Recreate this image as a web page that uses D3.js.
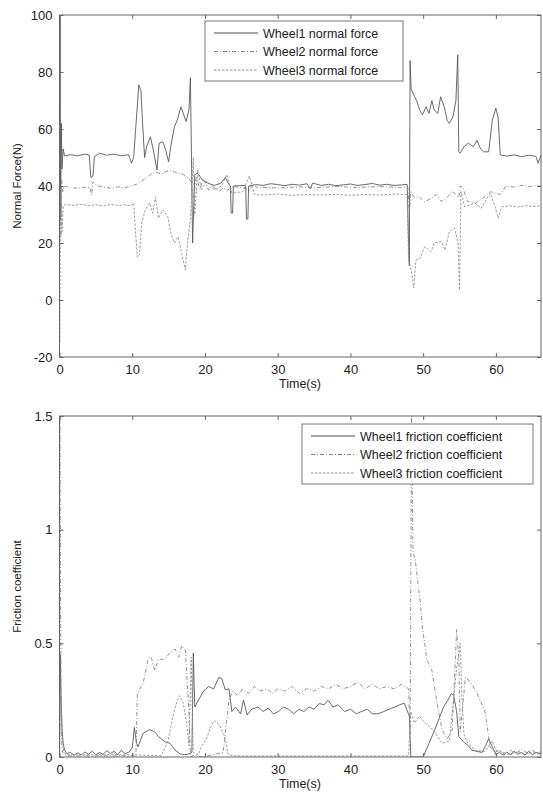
<html>
<head>
<meta charset="utf-8">
<script src="https://d3js.org/d3.v7.min.js"></script>
<style>
  body { margin: 0; background: #fff; }
  text { font-family: "Liberation Sans", Arial, sans-serif; fill: #222; }
</style>
</head>
<body>
<script>
// ---- data: [time (s), value] ----
var nf1 = [[0,20],[0.08,100],[0.15,28],[0.25,62],[0.35,46],[0.5,53],[0.7,50.5],[1.5,51],[2.5,50.6],[3.5,51.2],[4.1,50.8],[4.3,43],[4.6,43.5],[4.8,50.3],[5.5,51.5],[6.5,50.8],[7.5,51.2],[8.5,50.6],[9.5,51],[9.9,48],[10.2,50],[10.5,61],[10.9,75.5],[11.2,73.5],[11.4,63],[11.7,50],[12,54],[12.5,57.3],[12.9,52.6],[13.4,45.6],[13.7,55],[14.2,55.5],[14.6,52.6],[15,48.5],[15.3,54],[15.8,60.8],[16.2,63.2],[16.7,67.8],[17,65.6],[17.4,62.6],[17.8,66.7],[18.0,78],[18.3,20],[18.6,44],[19,44.5],[19.7,42],[20.4,41],[21.3,40.2],[22.2,41],[22.8,43],[23.3,40.5],[23.5,40],[23.6,30.5],[23.8,30.5],[23.9,40],[25.5,40.2],[25.6,40],[25.7,28.4],[25.9,28.4],[26,40],[27,40.5],[28,40.2],[29,40.8],[30,40.5],[31,40.1],[32,40.6],[33,40.3],[34,40.8],[34.5,39],[34.8,41],[36,40.2],[37,40.6],[38,40.1],[39,40.4],[40,40.7],[41,40.2],[42,40.5],[43,40.9],[44,40.3],[45,40.6],[46,40.2],[47,40.4],[47.8,40.6],[48.0,20],[48.1,12],[48.2,84],[48.35,74],[48.7,72],[49.1,70],[49.5,66.7],[49.9,65],[50.4,67.8],[50.8,65.5],[51.2,70],[51.5,66.7],[52,65.5],[52.4,71.3],[52.9,67.8],[53.3,63],[53.6,62],[54.1,64.3],[54.5,70],[54.75,86],[54.9,52],[55.1,51.5],[55.6,53.8],[56.2,55],[56.9,53.8],[57.4,56],[57.9,53],[58.3,52],[59,52],[59.5,63],[60,67.3],[60.3,64],[60.6,50.9],[61.5,50.5],[62.5,50.9],[63.5,50.3],[64.5,50.8],[65.5,50.4],[65.8,48],[66.2,50.9]];
var nf2 = [[0,40],[0.1,36],[0.2,22],[0.3,42],[0.45,38],[0.6,40],[1.5,39.5],[2.5,39.2],[3.5,39.6],[4.2,39.4],[4.4,36.8],[4.6,41.5],[5,40.3],[6,39.6],[7,39.3],[8,39.7],[9,39.4],[9.7,40],[10.5,40.5],[11.5,42],[12.5,44],[13,45],[14,44.2],[15,45.5],[16,44.8],[17,44],[17.6,43],[18,42],[18.4,36],[18.8,43],[19.3,39],[19.8,42.5],[20.5,38.5],[21,40],[22,38],[22.5,39.5],[23,38.5],[24,39.8],[25,39.4],[26.2,38.6],[26.5,41],[27,39.6],[30,39.3],[33,39.7],[35,39.4],[38,39.8],[41,39.5],[44,39.8],[47,39.5],[47.9,39.5],[48.1,30],[48.3,38],[48.8,36],[49.4,36.3],[50.2,34.5],[51.1,35.6],[51.8,37],[52.5,34.6],[53.3,36],[54,38.2],[54.9,36],[55.1,40],[55.4,39.8],[56.1,34.6],[57.2,34],[58.1,35.5],[58.8,37],[59.3,38],[60.6,37],[61.4,40],[62.5,39.6],[63.5,40.2],[64.5,39.8],[65.5,40.1],[66.2,40]];
var nf3 = [[0,0],[0.04,-15],[0.1,12],[0.2,40],[0.35,24],[0.5,33],[0.8,33.5],[2,33.2],[3,33.6],[4,33.1],[5,33.4],[6,33],[7,33.5],[8,33.2],[9,33.4],[9.8,33],[10.2,34],[10.5,22],[10.7,15],[11.0,16],[11.3,27],[11.8,31.6],[12.4,34],[12.8,30.5],[13.2,36.2],[13.6,28.7],[14.2,31.6],[14.9,29.2],[15.3,23.5],[15.8,20],[16.3,22.2],[16.7,17.5],[17.3,10.5],[17.6,20],[18.0,28],[18.4,50],[18.6,30],[19,45.6],[19.5,38.6],[20.2,41.7],[20.9,40],[21.3,38.6],[22.3,40],[23,44],[23.7,37.5],[25.2,38],[26.1,43.5],[26.8,37],[28,36.8],[30,37.2],[32,36.7],[34,37],[36,36.8],[38,37.1],[40,36.7],[42,37],[44,36.8],[46,37.2],[47.8,37],[48.0,14],[48.4,10],[48.7,4.2],[49,14],[49.6,14.7],[50.2,18.7],[51.1,17],[51.5,20],[52.5,20.5],[53,17.5],[53.6,24],[54.3,25.3],[54.8,20],[55,3.5],[55.2,38],[55.7,32.7],[57.1,34],[58,32.2],[59.2,37.5],[59.9,32.7],[60.3,28.7],[60.8,32.7],[62,33],[63,32.6],[64,33.1],[65,32.8],[66.2,33]];

var fc1 = [[0,0],[0.1,0.45],[0.2,0.28],[0.35,0.12],[0.5,0.06],[0.7,0.03],[1,0.015],[1.5,0.02],[2,0.008],[2.5,0.018],[3,0.01],[3.5,0.022],[4,0.012],[4.5,0.025],[5,0.01],[5.5,0.02],[6,0.012],[6.5,0.028],[7,0.015],[7.5,0.025],[8,0.01],[8.5,0.03],[9,0.015],[9.5,0.02],[10,0.04],[10.3,0.13],[10.6,0.06],[10.8,0.045],[11.5,0.105],[12.4,0.12],[13.1,0.11],[13.6,0.09],[14.5,0.067],[15.2,0.06],[15.9,0.03],[16.6,0.013],[17.5,0.01],[18.2,0.02],[18.4,0.457],[18.6,0.22],[19.1,0.25],[19.8,0.29],[20.5,0.31],[21.2,0.3],[21.9,0.35],[22.3,0.345],[22.8,0.295],[23.3,0.3],[23.7,0.2],[24.2,0.22],[24.9,0.19],[25.3,0.25],[25.8,0.185],[26.4,0.21],[27.3,0.22],[28,0.2],[28.7,0.215],[29.4,0.19],[30.1,0.2],[30.8,0.22],[31.5,0.21],[32.2,0.19],[32.9,0.21],[33.6,0.2],[34.3,0.22],[35,0.21],[35.7,0.235],[36.4,0.23],[36.9,0.25],[37.6,0.22],[38.3,0.23],[39.2,0.2],[40,0.21],[40.8,0.19],[41.5,0.2],[42.3,0.21],[43,0.19],[43.8,0.19],[44.6,0.2],[45.3,0.21],[46.1,0.22],[46.8,0.23],[47.4,0.237],[48.1,0.18],[48.3,0.0],[50,0.0],[50.8,0.06],[51.6,0.12],[52.2,0.17],[52.8,0.22],[53.4,0.25],[53.9,0.28],[54.2,0.27],[54.6,0.2],[54.9,0.09],[55.6,0.065],[56.2,0.05],[56.7,0.03],[57.4,0.025],[58.1,0.02],[58.6,0.05],[59,0.08],[59.5,0.045],[60,0.01],[60.5,0.02],[61,0.008],[61.5,0.022],[62,0.01],[62.5,0.025],[63,0.012],[63.5,0.02],[64,0.008],[64.5,0.025],[65,0.01],[65.5,0.02],[66.2,0.015]];
var fc2 = [[0,0],[0.05,1.5],[0.15,0.6],[0.25,0.1],[0.4,0.02],[1,0.005],[10.5,0.005],[10.7,0.28],[11.5,0.325],[12.2,0.43],[12.6,0.44],[13.1,0.38],[13.6,0.43],[14.5,0.43],[15.2,0.46],[15.9,0.475],[16.4,0.44],[16.8,0.49],[17.3,0.47],[17.8,0.2],[18,0.0],[18.6,0.01],[19.5,0],[22.5,0.02],[23.3,0.25],[23.8,0.29],[24.5,0.27],[25.2,0.3],[26,0.28],[26.8,0.31],[27.5,0.29],[28.5,0.3],[29.3,0.28],[30,0.3],[31,0.29],[32,0.31],[33,0.28],[34,0.3],[35,0.29],[36,0.31],[37,0.3],[38,0.32],[39,0.3],[40,0.31],[41,0.33],[42,0.3],[43,0.32],[44,0.3],[45,0.31],[46,0.3],[47,0.32],[48,0.3],[48.2,0.1],[48.4,1.5],[48.6,0.9],[48.9,0.87],[49.6,0.68],[49.9,0.57],[50.5,0.43],[51.2,0.38],[51.9,0.24],[52.6,0.12],[53.3,0.08],[54,0.12],[54.6,0.56],[54.9,0.43],[55.1,0.11],[55.8,0.35],[56.5,0.33],[57.4,0.28],[58.5,0.2],[59.2,0.045],[59.8,0.02],[60.5,0.03],[61.2,0.01],[62,0.03],[62.8,0.015],[63.5,0.035],[64.2,0.02],[65,0.03],[65.7,0.015],[66.2,0.025]];
var fc3 = [[0,0],[0.1,0.3],[0.25,0.2],[0.4,0.08],[0.6,0.02],[1,0.01],[10,0.01],[14,0.005],[14.9,0.07],[15.6,0.18],[16.1,0.24],[16.5,0.27],[17,0.24],[17.5,0.14],[17.8,0.05],[18.1,0.44],[18.4,0.02],[19.1,0.01],[19.5,0.045],[20.2,0.08],[20.9,0.14],[21.3,0.16],[22,0.14],[22.7,0.09],[23.2,0.01],[24,0.005],[48,0.005],[48.3,0.2],[48.8,0.15],[49.5,0.18],[50.2,0.15],[51,0.13],[51.6,0.11],[52.6,0.06],[53.6,0.07],[54.6,0.39],[55.1,0.5],[55.3,0.28],[55.6,0.1],[56.1,0.06],[57.2,0.03],[58.5,0.025],[59.5,0.07],[60,0.03],[61,0.02],[62,0.01],[63,0.025],[64,0.012],[65,0.02],[66.2,0.01]];

var xTicks = [0, 10, 20, 30, 40, 50, 60];
var nfTicks = [-20, 0, 20, 40, 60, 80, 100];
var fcTicks = [0, 0.5, 1, 1.5];
var nfNames = ["Wheel1 normal force", "Wheel2 normal force", "Wheel3 normal force"];
var fcNames = ["Wheel1 friction coefficient", "Wheel2 friction coefficient", "Wheel3 friction coefficient"];

var styles = [
    {stroke: "#505050", dash: null},
    {stroke: "#808080", dash: "4,2,1,2"},
    {stroke: "#8c8c8c", dash: "2.5,1.5"}
];

var svg = d3.select("body").append("svg")
    .attr("width", 543)
    .attr("height", 794);

var x = d3.scaleLinear().domain([0, 66.2]).range([59.5, 541]);
var plain = d => String(d);   // keep ascii hyphen like the original

function panel(top, bottom, yDomain, yTicks, series, names, yLabel, legend) {
    var y = d3.scaleLinear().domain(yDomain).range([bottom, top]);
    var g = svg.append("g");

    g.append("defs").append("clipPath").attr("id", "clip" + top)
        .append("rect").attr("x", 59.5).attr("y", top).attr("width", 541 - 59.5).attr("height", bottom - top);

    var line = d3.line().x(d => x(d[0])).y(d => y(d[1]));
    series.forEach((s, i) => {
        g.append("path")
            .datum(s)
            .attr("clip-path", "url(#clip" + top + ")")
            .attr("fill", "none")
            .attr("stroke", styles[i].stroke)
            .attr("stroke-width", 0.85)
            .attr("stroke-dasharray", styles[i].dash)
            .attr("d", line);
    });

    // box with inward ticks (matlab style)
    g.append("rect").attr("x", 59.5).attr("y", top).attr("width", 541 - 59.5).attr("height", bottom - top)
        .attr("fill", "none").attr("stroke", "#666").attr("stroke-width", 1);

    g.append("g").attr("transform", `translate(0,${bottom})`)
        .call(d3.axisBottom(x).tickValues(xTicks).tickFormat(plain).tickSizeInner(-4).tickSizeOuter(0).tickPadding(8))
        .call(a => a.select(".domain").remove())
        .call(a => a.selectAll("line").attr("stroke", "#666"))
        .call(a => a.selectAll("text").attr("font-size", 13).attr("fill", "#222"));
    g.append("g").attr("transform", `translate(0,${top})`)
        .call(d3.axisTop(x).tickValues(xTicks).tickSizeInner(-4).tickSizeOuter(0).tickFormat(""))
        .call(a => a.select(".domain").remove())
        .call(a => a.selectAll("line").attr("stroke", "#666"));
    g.append("g").attr("transform", "translate(59.5,0)")
        .call(d3.axisLeft(y).tickValues(yTicks).tickFormat(plain).tickSizeInner(-4).tickSizeOuter(0).tickPadding(7))
        .call(a => a.select(".domain").remove())
        .call(a => a.selectAll("line").attr("stroke", "#666"))
        .call(a => a.selectAll("text").attr("font-size", 13).attr("fill", "#222"));
    g.append("g").attr("transform", "translate(541,0)")
        .call(d3.axisRight(y).tickValues(yTicks).tickSizeInner(-4).tickSizeOuter(0).tickFormat(""))
        .call(a => a.select(".domain").remove())
        .call(a => a.selectAll("line").attr("stroke", "#666"));

    g.append("text")
        .attr("x", 300).attr("y", bottom + 31)
        .attr("text-anchor", "middle").attr("font-size", 12.5)
        .text("Time(s)");
    g.append("text")
        .attr("transform", `translate(21,${(top + bottom) / 2}) rotate(-90)`)
        .attr("text-anchor", "middle").attr("font-size", 11.5)
        .text(yLabel);

    // legend
    var lg = g.append("g");
    lg.append("rect").attr("x", legend.x).attr("y", legend.y).attr("width", legend.w).attr("height", 60)
        .attr("fill", "#fff").attr("stroke", "#777").attr("stroke-width", 1);
    names.forEach((n, i) => {
        var cy = legend.y + 12 + i * 18.5;
        lg.append("line")
            .attr("x1", legend.x + 9).attr("x2", legend.x + legend.lw)
            .attr("y1", cy).attr("y2", cy)
            .attr("stroke", styles[i].stroke).attr("stroke-width", 1)
            .attr("stroke-dasharray", styles[i].dash);
        lg.append("text")
            .attr("x", legend.x + legend.lw + 5).attr("y", cy + 4.5)
            .attr("font-size", 12.5)
            .text(n);
    });
}

panel(15, 357, [-20, 100], nfTicks, [nf1, nf2, nf3], nfNames, "Normal Force(N)",
    {x: 205, y: 21, w: 198, lw: 53});
panel(416, 757, [0, 1.5], fcTicks, [fc1, fc2, fc3], fcNames, "Friction coefficient",
    {x: 302, y: 424, w: 231, lw: 53});
</script>
</body>
</html>
